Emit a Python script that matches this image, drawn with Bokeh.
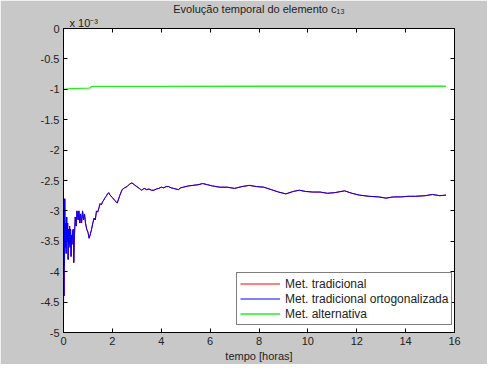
from bokeh.plotting import figure
from bokeh.models import Title, LinearAxis, FixedTicker, Legend, LegendItem, Range1d
from bokeh.embed import file_html
from bokeh.resources import INLINE

# ---- data (values in units of 1e-3) ----
t_orto = [0.00, 0.01, 0.02, 0.03, 0.04, 0.05, 0.07, 0.09, 0.11, 0.13, 0.15, 0.17, 0.19, 0.21,
          0.23, 0.25, 0.27, 0.29, 0.31, 0.33, 0.35, 0.37, 0.40, 0.42, 0.45, 0.48, 0.52, 0.55,
          0.60, 0.63, 0.67, 0.70, 0.74, 0.78, 0.82, 0.86, 0.90, 0.95, 1.00, 1.05, 1.10, 1.15,
          1.20, 1.25, 1.30, 1.35, 1.40, 1.45, 1.50, 1.55, 1.60, 1.65, 1.70, 1.75, 1.80, 1.85,
          1.90, 2.00, 2.10, 2.20, 2.30, 2.40,
          2.50, 2.60, 2.70, 2.80, 2.90, 3.00, 3.10, 3.20, 3.30, 3.40, 3.50, 3.60, 3.70, 3.80,
          3.90, 4.00, 4.10, 4.20, 4.30, 4.40,
          4.50, 4.60, 4.70, 4.80, 4.90, 5.10, 5.30, 5.50, 5.70, 5.90, 6.10, 6.40, 6.70, 7.00,
          7.30, 7.60, 7.90, 8.20, 8.50, 8.80, 9.10, 9.40, 9.65, 9.90, 10.20, 10.50, 10.80, 11.10,
          11.50, 11.80, 12.10, 12.50, 12.90, 13.20, 13.50, 13.80, 14.10, 14.40, 14.80, 15.10,
          15.40, 15.65]
c13_orto = [-4.75, -3.30, -4.40, -2.95, -3.90, -2.80, -3.60, -3.20, -3.70, -3.10, -3.50, -3.20,
            -3.80, -3.30, -3.55, -3.25, -3.60, -3.30, -3.75, -3.40, -3.55, -3.35, -3.30, -3.85,
            -3.40, -3.10, -3.25, -3.00, -3.15, -3.00, -3.20, -3.05, -3.20, -3.00, -3.15, -3.05,
            -3.20, -3.30, -3.35, -3.45, -3.38, -3.30, -3.20, -3.12, -3.15, -3.00, -3.02, -2.95,
            -2.88, -2.90, -2.85, -2.82, -2.78, -2.76, -2.72, -2.70, -2.74, -2.78, -2.83, -2.87,
            -2.75, -2.65, -2.62, -2.60, -2.56, -2.54, -2.57, -2.60, -2.63, -2.66, -2.63, -2.65,
            -2.64, -2.66, -2.66, -2.64, -2.63, -2.61, -2.62, -2.60, -2.60, -2.62, -2.63, -2.64,
            -2.65, -2.62, -2.61, -2.59, -2.58, -2.57, -2.55, -2.57, -2.59, -2.61, -2.61, -2.63,
            -2.60, -2.58, -2.60, -2.61, -2.65, -2.69, -2.72, -2.68, -2.66, -2.68, -2.69, -2.69,
            -2.71, -2.70, -2.67, -2.71, -2.74, -2.76, -2.77, -2.79, -2.77, -2.77, -2.76, -2.76,
            -2.75, -2.73, -2.75, -2.74]
# traditional method coincides with the orthogonalized one (hidden underneath)
t_trad = list(t_orto)
c13_trad = list(c13_orto)

t_alt = [0.00, 0.30, 0.60, 1.00, 1.10, 1.15, 1.30, 4.00, 8.00, 12.00, 15.65]
c13_alt = [-1.00, -0.99, -0.985, -0.98, -0.975, -0.955, -0.952, -0.951, -0.950, -0.950, -0.950]

xticks = [0, 2, 4, 6, 8, 10, 12, 14, 16]
xtick_labels = ["0", "2", "4", "6", "8", "10", "12", "14", "16"]
yticks = [0, -0.5, -1, -1.5, -2, -2.5, -3, -3.5, -4, -4.5, -5]
ytick_labels = ["0", "-0.5", "-1", "-1.5", "-2", "-2.5", "-3", "-3.5", "-4", "-4.5", "-5"]

title_text = "Evolução temporal do elemento c₁₃"
exponent_text = "x 10⁻³"
xlabel = "tempo [horas]"
series_names = ["Met. tradicional", "Met. tradicional ortogonalizada", "Met. alternativa"]

FONT = "Liberation Sans"
BG = "#c8c8c8"
TXT = "#222222"

p = figure(width=487, height=364, output_backend="svg", toolbar_location=None, title=None,
           x_range=Range1d(0, 16), y_range=Range1d(-5, 0),
           min_border_left=63, min_border_right=33, min_border_top=0, min_border_bottom=30,
           background_fill_color="white", border_fill_color=BG)
p.outline_line_color = "black"
p.outline_line_width = 1
p.grid.visible = False

r_trad = p.line(t_trad, c13_trad, line_color="#ff0000", line_width=1)
r_orto = p.line(t_orto, c13_orto, line_color="#0000ff", line_width=1)
r_alt = p.line(t_alt, c13_alt, line_color="#22ee22", line_width=1.3)

def style_axis(ax, ticks, labels, show_labels=True):
    ax.ticker = FixedTicker(ticks=ticks)
    ax.major_label_overrides = {float(v): s for v, s in zip(ticks, labels)}
    ax.minor_tick_line_color = None
    ax.major_tick_in = 4
    ax.major_tick_out = 0
    ax.axis_line_color = "black"
    ax.major_tick_line_color = "black"
    ax.major_label_text_font = FONT
    ax.major_label_text_color = TXT
    ax.major_label_text_font_size = "11px"
    ax.major_label_standoff = 4
    if not show_labels:
        ax.major_label_text_alpha = 0
        ax.major_label_standoff = 0

style_axis(p.xaxis[0], xticks, xtick_labels)
style_axis(p.yaxis[0], yticks, ytick_labels)
p.xaxis[0].axis_label = xlabel
p.xaxis[0].axis_label_text_font = FONT
p.xaxis[0].axis_label_text_font_size = "11px"
p.xaxis[0].axis_label_text_font_style = "normal"
p.xaxis[0].axis_label_text_color = TXT
p.xaxis[0].axis_label_standoff = 2

ax_right = LinearAxis()
style_axis(ax_right, yticks, ytick_labels, show_labels=False)
p.add_layout(ax_right, "right")

# top edge ticks: an axis with labels hidden
ax_top = LinearAxis()
style_axis(ax_top, xticks, xtick_labels, show_labels=False)
ax_top.major_label_text_font_size = "0px"
p.add_layout(ax_top, "above")

# exponent of the y axis, then the title (stacked above the frame)
p.add_layout(Title(text=exponent_text, align="left", offset=6, standoff=0,
                   text_font=FONT, text_font_size="11px", text_font_style="normal",
                   text_color=TXT), "above")
p.add_layout(Title(text=title_text, align="center", standoff=0,
                   text_font=FONT, text_font_size="11px", text_font_style="normal",
                   text_color=TXT), "above")

legend = Legend(items=[LegendItem(label=series_names[0], renderers=[r_trad]),
                       LegendItem(label=series_names[1], renderers=[r_orto]),
                       LegendItem(label=series_names[2], renderers=[r_alt])],
                location=(173, 7), border_line_color="black", border_line_width=1,
                background_fill_color="white", background_fill_alpha=1,
                label_text_font=FONT, label_text_font_size="12px", label_text_color=TXT,
                glyph_width=40, glyph_height=15, label_height=15, spacing=0, padding=3,
                label_standoff=5, margin=0)
p.add_layout(legend, "center")

open("out.html", "w").write(file_html(p, INLINE))
